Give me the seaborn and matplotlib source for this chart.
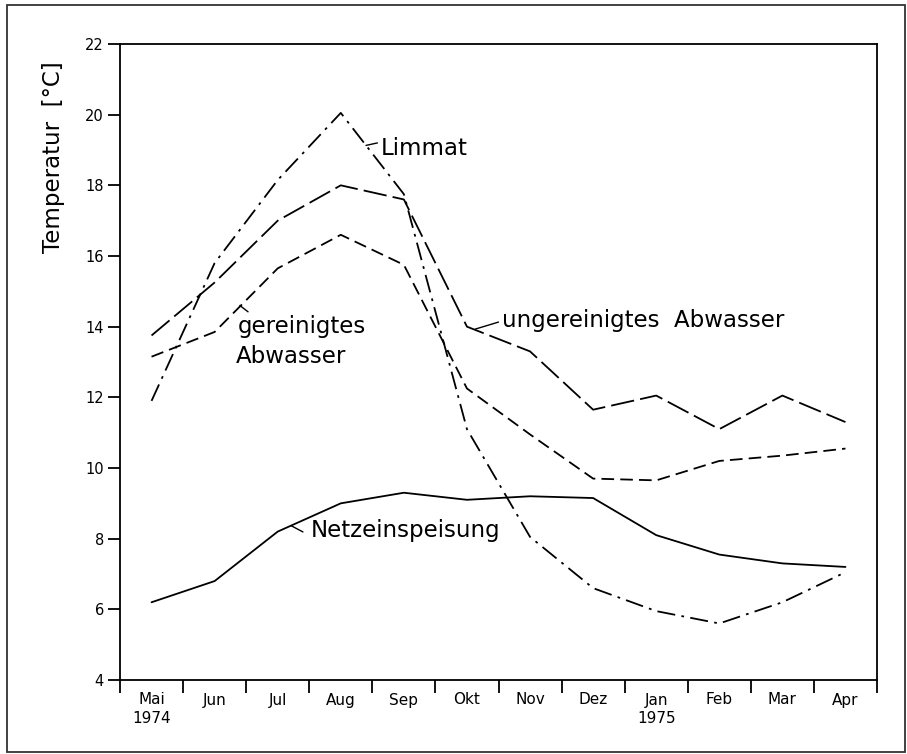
import matplotlib
matplotlib.use("Agg")
import matplotlib.pyplot as plt
import seaborn as sns
import numpy as np
import pandas as pd
from matplotlib.patches import Rectangle

# ---- data ----
months = ["Mai\n1974", "Jun", "Jul", "Aug", "Sep", "Okt", "Nov", "Dez",
          "Jan\n1975", "Feb", "Mar", "Apr"]
limmat = [11.9, 15.8, 18.15, 20.05, 17.75, 11.1, 8.05, 6.6, 5.95, 5.6, 6.2, 7.05]
ungereinigt = [13.75, 15.25, 17.0, 18.0, 17.6, 14.0, 13.3, 11.65, 12.05, 11.1, 12.05, 11.3]
gereinigt = [13.15, 13.85, 15.65, 16.6, 15.75, 12.25, 10.95, 9.7, 9.65, 10.2, 10.35, 10.55]
netz = [6.2, 6.8, 8.2, 9.0, 9.3, 9.1, 9.2, 9.15, 8.1, 7.55, 7.3, 7.2]
yticks = [4, 6, 8, 10, 12, 14, 16, 18, 20, 22]
ylabel = "Temperatur  [°C]"

sns.set_style("ticks")
plt.rcParams['font.family'] = ['DejaVu Sans']
plt.rcParams['axes.edgecolor'] = 'black'
plt.rcParams['xtick.color'] = 'black'
plt.rcParams['ytick.color'] = 'black'
plt.rcParams['xtick.labelcolor'] = 'black'
plt.rcParams['ytick.labelcolor'] = 'black'
plt.rcParams['text.color'] = 'black'
plt.rcParams['axes.labelcolor'] = 'black'

fig = plt.figure(figsize=(9.07, 7.54), dpi=100)
fig.patch.set_facecolor('white')
ax = fig.add_axes([120 / 907, 1 - 680 / 754, (877 - 120) / 907, (680 - 44) / 754])

xs = np.arange(len(months)) + 0.5
df = pd.DataFrame({"x": xs, "Limmat": limmat, "ungereinigt": ungereinigt,
                   "gereinigt": gereinigt, "Netz": netz})

lw = 1.3
sns.lineplot(data=df, x="x", y="Limmat", ax=ax, color='black', lw=lw,
             linestyle=(0, (10, 3.5, 1.5, 3.5)))
sns.lineplot(data=df, x="x", y="ungereinigt", ax=ax, color='black', lw=lw,
             linestyle=(0, (13, 3.4)))
sns.lineplot(data=df, x="x", y="gereinigt", ax=ax, color='black', lw=lw,
             linestyle=(0, (7, 3.4)))
sns.lineplot(data=df, x="x", y="Netz", ax=ax, color='black', lw=lw,
             linestyle='-')

ax.set_xlim(0, 12)
ax.set_ylim(4, 22)
ax.set_yticks(yticks)
ax.set_xticks(np.arange(13))
ax.set_xticklabels([])
ax.set_xticks(xs, minor=True)
ax.set_xticklabels(months, minor=True, linespacing=1.3)
ax.tick_params(axis='x', which='major', direction='out', length=9, width=1.3)
ax.tick_params(axis='x', which='minor', length=0, pad=9, labelsize=11)
ax.tick_params(axis='y', which='major', direction='out', length=8.6, width=1.3,
               labelsize=10.5, pad=3)
for s in ax.spines.values():
    s.set_visible(True)
    s.set_linewidth(1.3)
    s.set_color('black')

ax.set_xlabel("")
ax.set_ylabel(ylabel, fontsize=16.5, color='black')
ax.yaxis.set_label_coords(-0.073, 0.822)

# ---- curve labels with short leaders ----
fs = 16.5
lead = dict(arrowstyle='-', color='black', lw=1.0, shrinkA=0, shrinkB=0)

ax.text(4.13, 18.86, "Limmat", fontsize=fs, ha='left', va='baseline', color='black')
ax.annotate("", xy=(3.9, 19.13), xytext=(4.08, 19.2), arrowprops=lead)

ax.text(6.05, 13.99, "ungereinigtes  Abwasser", fontsize=fs, ha='left', va='baseline',
        color='black')
ax.annotate("", xy=(5.63, 13.93), xytext=(6.0, 14.13), arrowprops=lead)

ax.text(1.86, 13.82, "gereinigtes", fontsize=fs, ha='left', va='baseline', color='black')
ax.text(1.83, 12.97, "Abwasser", fontsize=fs, ha='left', va='baseline', color='black')
ax.annotate("", xy=(1.9, 14.6), xytext=(2.03, 14.42), arrowprops=lead)

ax.text(3.02, 8.05, "Netzeinspeisung", fontsize=fs, ha='left', va='baseline', color='black')
ax.annotate("", xy=(2.71, 8.37), xytext=(2.9, 8.19), arrowprops=lead)

# ---- outer frame ----
fig.patches.append(Rectangle((7 / 907, 1 - 752 / 754), (905 - 7) / 907, (752 - 5) / 754,
                             transform=fig.transFigure, fill=False,
                             edgecolor='#333333', lw=1.3))

fig.savefig("out.png", dpi=100)
